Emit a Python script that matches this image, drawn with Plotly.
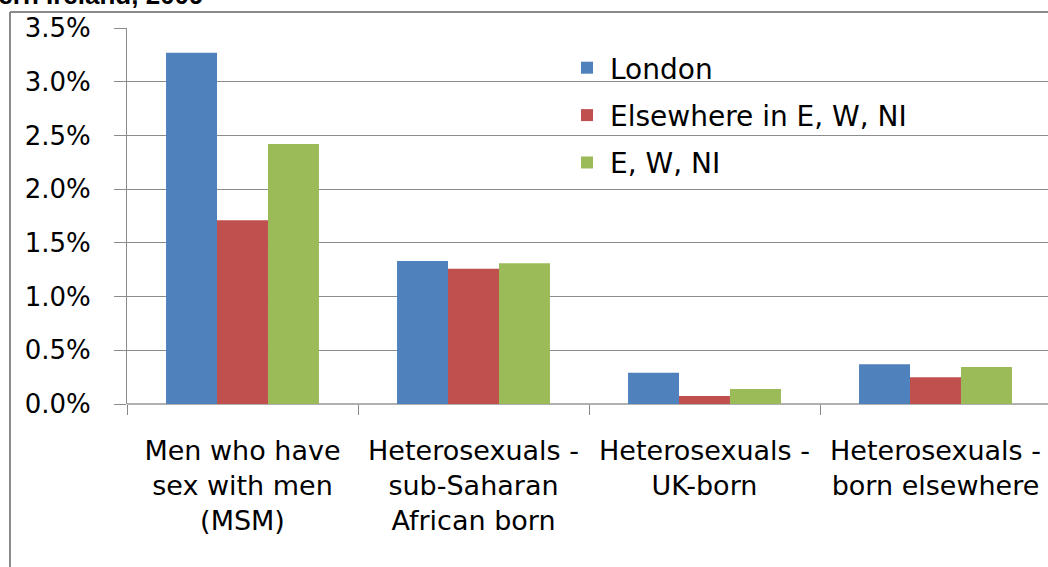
import plotly.graph_objects as go

categories = ["Men who have<br>sex with men<br>(MSM)",
              "Heterosexuals -<br>sub-Saharan<br>African born",
              "Heterosexuals -<br>UK-born",
              "Heterosexuals -<br>born elsewhere"]
series_names = ["London", "Elsewhere in E, W, NI", "E, W, NI"]
london = [0.0327, 0.0133, 0.0029, 0.0037]
elsewhere = [0.0171, 0.0126, 0.00075, 0.0025]
ewni = [0.0242, 0.0131, 0.0014, 0.00345]
colors = ["#4F81BD", "#C0504D", "#9BBB59"]
yticks = [0, 0.005, 0.01, 0.015, 0.02, 0.025, 0.03, 0.035]

W, H = 1048, 567
L, R, T, B = 127, 0, 28, 163
pw = W - L - R
ph = H - T - B

fig = go.Figure()
for name, vals, c in zip(series_names, [london, elsewhere, ewni], colors):
    fig.add_trace(go.Bar(x=categories, y=vals, name=name, marker_color=c,
                         marker_line_width=0, legendgroup=name))

def px_to_paper_x(px):
    return (px - L) / pw

def px_to_paper_y(py):
    return (H - B - py) / ph

fig.update_layout(
    width=W, height=H,
    margin=dict(l=L, r=R, t=T, b=B, pad=0),
    paper_bgcolor="white", plot_bgcolor="white",
    barmode="group", bargap=0.338, bargroupgap=0,
    font=dict(family="DejaVu Sans", color="#000000"),
    showlegend=True,
    legend=dict(x=px_to_paper_x(564), y=px_to_paper_y(43), xanchor="left", yanchor="top",
                font=dict(size=28, family="DejaVu Sans"), bgcolor="rgba(0,0,0,0)",
                tracegroupgap=8, itemwidth=36),
    xaxis=dict(range=[-0.5, -0.5 + pw / 231.0], showgrid=False, ticks="outside",
               tickson="boundaries", ticklen=10, tickcolor="#888888",
               showline=False, zeroline=False,
               tickfont=dict(family="DejaVu Sans", size=27),
               ticklabelstandoff=28),
    yaxis=dict(range=[0, 0.035], tickvals=yticks, tickformat=".1%",
               showgrid=True, gridcolor="#8c8c8c", gridwidth=1,
               ticks="outside", ticklen=12, tickcolor="#8c8c8c",
               showline=True, linecolor="#8c8c8c", linewidth=1,
               zeroline=True, zerolinecolor="#b0b0b0", zerolinewidth=2,
               tickfont=dict(size=26, family="DejaVu Sans"), ticklabelstandoff=18),
)

fig.add_annotation(text="<b>Northern Ireland, 2009</b>", xref="paper", yref="paper",
                   x=px_to_paper_x(206), y=px_to_paper_y(-5), xanchor="right", yanchor="middle",
                   showarrow=False, font=dict(size=26, family="Liberation Sans"))

fig.add_shape(type="line", xref="paper", yref="paper",
              x0=px_to_paper_x(10), x1=px_to_paper_x(10), y0=px_to_paper_y(12), y1=px_to_paper_y(570),
              line=dict(color="#8a8a8a", width=2))
fig.add_shape(type="line", xref="paper", yref="paper",
              x0=px_to_paper_x(10), x1=px_to_paper_x(1060), y0=px_to_paper_y(12), y1=px_to_paper_y(12),
              line=dict(color="#8a8a8a", width=2))

fig.write_html("out.html", config={"displayModeBar": False},
               post_script="document.body.style.margin='0';")
